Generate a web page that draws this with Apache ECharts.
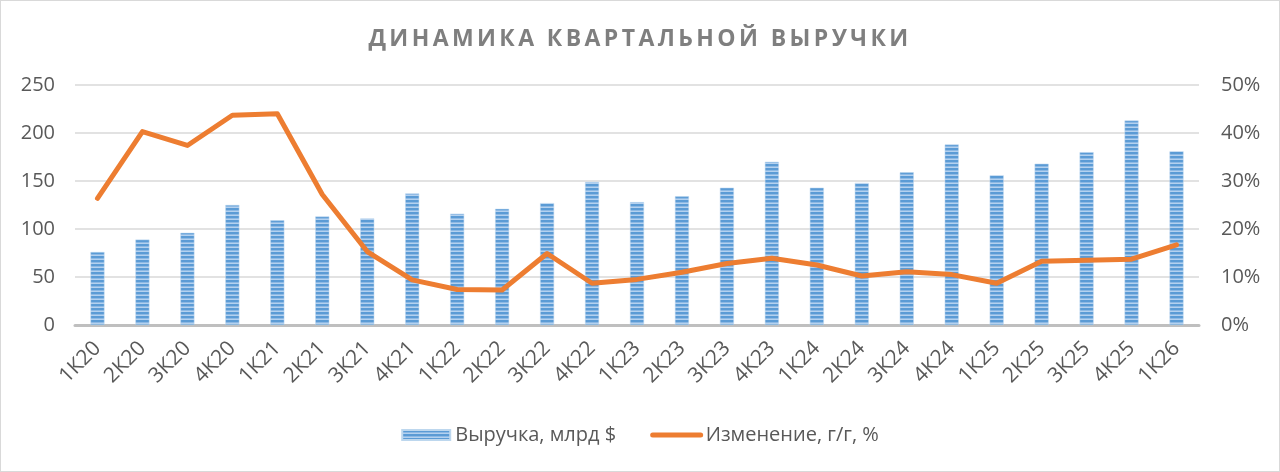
<!DOCTYPE html>
<html>
<head>
<meta charset="utf-8">
<script src="https://cdn.jsdelivr.net/npm/echarts@6/dist/echarts.min.js"></script>
<style>
  html, body { margin: 0; padding: 0; background: #fff; }
  #wrap { position: relative; width: 1278px; height: 470px; border: 1px solid #d9d9d9; }
  #title {
    position: absolute; left: 0; right: 0; top: 20px; text-align: center;
    font: bold 23px "Open Sans", sans-serif; letter-spacing: 3.4px; color: #7f7f7f;
  }
  #chart { position: absolute; left: -1px; top: -1px; width: 1280px; height: 472px; }
</style>
</head>
<body>
<div id="wrap">
  <div id="chart"></div>
  <div id="title">ДИНАМИКА КВАРТАЛЬНОЙ ВЫРУЧКИ</div>
</div>
<script>
var quarters = ['1К20', '2К20', '3К20', '4К20', '1К21', '2К21', '3К21', '4К21',
  '1К22', '2К22', '3К22', '4К22', '1К23', '2К23', '3К23', '4К23',
  '1К24', '2К24', '3К24', '4К24', '1К25', '2К25', '3К25', '4К25', '1К26'];
// выручка, млрд $
var revenue = [76, 89, 96, 125, 109, 113, 111, 137,
  116, 121, 127, 149, 128, 134, 143, 170,
  143, 148, 159, 188, 156, 168, 180, 213, 181];
// изменение г/г, %
var growth = [26.4, 40.3, 37.4, 43.7, 44.0, 27.2, 15.3, 9.4,
  7.4, 7.3, 14.9, 8.7, 9.5, 11.0, 12.8, 13.9,
  12.5, 10.2, 11.1, 10.5, 8.7, 13.3, 13.5, 13.7, 16.7];
var leftTicks = [0, 250, 50];   // min, max, step
var rightTicks = [0, 50, 10];

// полосатая заливка столбцов
var stripe = document.createElement('canvas');
stripe.width = 4;
stripe.height = 4;
var sctx = stripe.getContext('2d');
sctx.fillStyle = '#5b9bd5';
sctx.fillRect(0, 0, 4, 2);
sctx.fillStyle = '#8db9e4';
sctx.fillRect(0, 2, 4, 1);
sctx.fillStyle = '#b4d1ef';
sctx.fillRect(0, 3, 4, 1);

var labelStyle = { color: '#595959', fontSize: 20, fontFamily: 'Open Sans' };

var chart = echarts.init(document.getElementById('chart'));
chart.setOption({
  animation: false,
  grid: { left: 75, right: 81, top: 85, bottom: 147 },
  legend: {
    bottom: 22,
    left: 'center',
    itemGap: 34,
    itemWidth: 48,
    itemHeight: 10,
    textStyle: labelStyle,
    data: [
      { name: 'Выручка, млрд $', icon: 'rect' },
      { name: 'Изменение, г/г, %', itemStyle: { opacity: 0 }, lineStyle: { width: 5, color: '#ed7d31' } }
    ]
  },
  xAxis: {
    type: 'category',
    data: quarters,
    axisLine: { lineStyle: { color: '#bfbfbf', width: 3 } },
    axisTick: { show: false },
    axisLabel: Object.assign({ rotate: 45, interval: 0, margin: 20 }, labelStyle, { fontSize: 21 })
  },
  yAxis: [{
    type: 'value',
    min: leftTicks[0], max: leftTicks[1], interval: leftTicks[2],
    axisLine: { show: false },
    axisTick: { show: false },
    axisLabel: Object.assign({ margin: 20 }, labelStyle),
    splitLine: { lineStyle: { color: '#d9d9d9', width: 1.5 } }
  }, {
    type: 'value',
    min: rightTicks[0], max: rightTicks[1], interval: rightTicks[2],
    axisLine: { show: false },
    axisTick: { show: false },
    axisLabel: Object.assign({ margin: 22, formatter: '{value}%' }, labelStyle),
    splitLine: { show: false }
  }],
  series: [{
    name: 'Выручка, млрд $',
    type: 'bar',
    data: revenue,
    barWidth: 14,
    itemStyle: {
      color: { image: stripe, repeat: 'repeat' },
      borderColor: '#bdd7ee',
      borderWidth: 0.5
    }
  }, {
    name: 'Изменение, г/г, %',
    type: 'line',
    yAxisIndex: 1,
    data: growth,
    symbol: 'none',
    lineStyle: { color: '#ed7d31', width: 5, cap: 'round', join: 'round' },
    itemStyle: { color: '#ed7d31' }
  }]
});
</script>
</body>
</html>
